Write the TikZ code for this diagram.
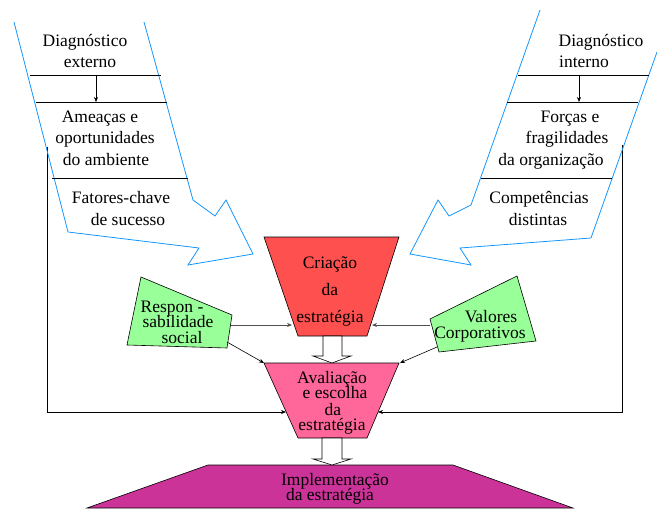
\documentclass[tikz,border=0pt]{standalone}
\usepackage{fontspec}
\setmainfont{Liberation Serif}
\usetikzlibrary{arrows.meta}
\definecolor{skyline}{RGB}{20,150,255}
\definecolor{criafill}{RGB}{255,80,80}
\definecolor{avalfill}{RGB}{255,102,153}
\definecolor{implfill}{RGB}{204,51,153}
\definecolor{greenfill}{RGB}{153,255,153}
\definecolor{conngray}{RGB}{80,80,80}
\begin{document}
\begin{tikzpicture}[x=1pt,y=-1pt,
  txt/.style={anchor=base,inner sep=0pt,font=\fontsize{17.5}{21}\selectfont},
  bluearrow/.style={draw=skyline,line width=0.8pt,line join=miter},
  shapebox/.style={draw=black,line width=0.6pt},
  hollow/.style={draw=black,fill=white,line width=0.6pt},
  conn/.style={draw=black,line width=0.6pt,-{Stealth[length=5pt,width=4pt]}},
  gconn/.style={draw=conngray,line width=0.7pt,-{Stealth[length=5pt,width=4pt]}},
  sep/.style={draw=black,line width=0.6pt}]
\useasboundingbox (0,0) rectangle (657,511);

% ---- black feedback lines
\coordinate (lv) at (47,147);
\coordinate (lc) at (47,412);
\coordinate (rv) at (622,145);
\coordinate (rc) at (622,412);
\coordinate (avL) at (286,412);
\coordinate (avR) at (378,412);
\draw[conn] (lv) -- (lc) -- (avL);
\draw[conn] (rv) -- (rc) -- (avR);

% ---- left blue arrow
\draw[bluearrow] (14,22) -- (68,232) -- (199,248) -- (188,265) -- (253,254) -- (226,200) -- (215,216) -- (193,200) -- (144,22);
\draw[sep] (30,75) -- (161,75);
\draw[sep] (36,102) -- (167,102);
\draw[sep] (52,178) -- (188,178);
\coordinate (la1) at (96,75);
\coordinate (la2) at (96,102);
\draw[conn] (la1) -- (la2);
\node[txt] (de1) at (85,47) {Diagnóstico};
\node[txt] (de2) at (90,68) {externo};
\node[txt] (am1) at (100,123) {Ameaças e};
\node[txt] (am2) at (105,144) {oportunidades};
\node[txt] (am3) at (106,165) {do ambiente};
\node[txt] (fc1) at (121,203) {Fatores-chave};
\node[txt] (fc2) at (128,225) {de sucesso};

% ---- right blue arrow
\draw[bluearrow] (540,10) -- (471,205) -- (449,216) -- (438,200) -- (410,254) -- (471,265) -- (460,248) -- (591,238) -- (657,52);
\draw[sep] (518,75) -- (649,75);
\draw[sep] (507,102) -- (638,102);
\draw[sep] (481,178) -- (612,178);
\coordinate (ra1) at (579,75);
\coordinate (ra2) at (579,102);
\draw[conn] (ra1) -- (ra2);
\node[txt] (di1) at (601,47) {Diagnóstico};
\node[txt] (di2) at (584,68) {interno};
\node[txt] (fo1) at (570,123) {Forças e};
\node[txt] (fo2) at (567,144) {fragilidades};
\node[txt] (fo3) at (551,165) {da organização};
\node[txt] (cd1) at (539,203) {Competências};
\node[txt] (cd2) at (538,225) {distintas};

% ---- Criação
\draw[shapebox,fill=criafill] (264,237) -- (399,237) -- (367,336) -- (298,336) -- cycle;
\node[txt] (cr1) at (330,268) {Criação};
\node[txt] (cr2) at (330,295) {da};
\node[txt] (cr3) at (330,322) {estratégia};

% ---- Avaliação
\draw[shapebox,fill=avalfill] (264,363) -- (399,363) -- (367,438) -- (298,438) -- cycle;
\node[txt] (av1) at (332,383) {Avaliação};
\node[txt] (av2) at (335,398) {e escolha};
\node[txt] (av3) at (333,415) {da};
\node[txt] (av4) at (332,430) {estratégia};

% ---- Implementação
\draw[shapebox,fill=implfill] (208,465) -- (453,465) -- (573,508) -- (87,508) -- cycle;
\node[txt] (im1) at (335,485) {Implementação};
\node[txt] (im2) at (330,500) {da estratégia};

% ---- hollow arrows
\draw[hollow] (323,336) -- (342,336) -- (342,356) -- (351,356) -- (332,363) -- (313,356) -- (323,356) -- cycle;
\draw[hollow] (322,438) -- (342,438) -- (342,459) -- (351,459) -- (332,465) -- (313,459) -- (322,459) -- cycle;

% ---- green boxes
\draw[shapebox,fill=greenfill] (141,277) -- (232,315) -- (227,348) -- (127,345) -- cycle;
\node[txt] (rs1) at (172,312) {Respon -};
\node[txt] (rs2) at (178,327) {sabilidade};
\node[txt] (rs3) at (182,343) {social};
\draw[shapebox,fill=greenfill] (430,319) -- (517,276) -- (536,341) -- (439,352) -- cycle;
\node[txt] (vc1) at (491,322) {Valores};
\node[txt] (vc2) at (480,338) {Corporativos};

% ---- connectors from green boxes
\coordinate (gl1) at (231,325);
\coordinate (crL) at (292,325);
\coordinate (gr1) at (430,325);
\coordinate (crR) at (372,325);
\coordinate (gl2) at (227,342);
\coordinate (avTL) at (264,363);
\coordinate (gr2) at (437,347);
\coordinate (avTR) at (400,363);
\draw[gconn] (gl1) -- (crL);
\draw[gconn] (gr1) -- (crR);
\draw[conn] (gl2) -- (avTL);
\draw[conn] (gr2) -- (avTR);
\end{tikzpicture}
\end{document}
